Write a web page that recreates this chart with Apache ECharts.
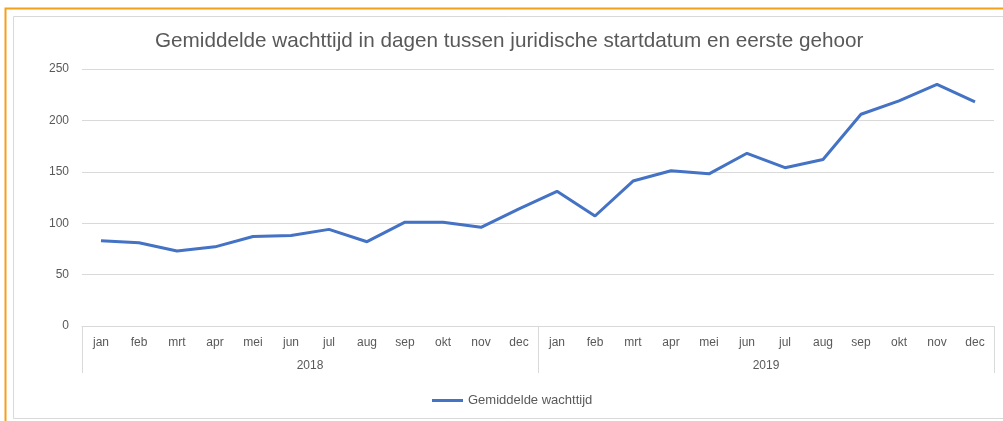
<!DOCTYPE html>
<html>
<head>
<meta charset="utf-8">
<script src="https://cdn.jsdelivr.net/npm/echarts@6/dist/echarts.min.js"></script>
<style>
  html, body { margin: 0; padding: 0; background: #ffffff; }
  #chart { width: 1003px; height: 421px; }
</style>
</head>
<body>
<div id="chart"></div>
<script>
// Average waiting time (days) between legal start date and first hearing, per month
const months = ['jan', 'feb', 'mrt', 'apr', 'mei', 'jun', 'jul', 'aug', 'sep', 'okt', 'nov', 'dec',
                'jan', 'feb', 'mrt', 'apr', 'mei', 'jun', 'jul', 'aug', 'sep', 'okt', 'nov', 'dec'];
const years = ['2018', '2019'];
const waitingDays = [83, 81, 73, 77, 87, 88, 94, 82, 101, 101, 96, 114,
                     131, 107, 141, 151, 148, 168, 154, 162, 206, 219, 235, 218];
const yTicks = { min: 0, max: 250, interval: 50 };

const textGrey = '#595959';
const gridGrey = '#d9d9d9';
const lineBlue = '#4472c4';
const font = 'Liberation Sans, Arial, sans-serif';

const chart = echarts.init(document.getElementById('chart'));
chart.setOption({
  backgroundColor: '#ffffff',
  animation: false,
  title: {
    text: 'Gemiddelde wachttijd in dagen tussen juridische startdatum en eerste gehoor',
    left: 150,
    top: 26,
    textStyle: { color: textGrey, fontSize: 20.7, fontWeight: 'normal', fontFamily: font }
  },
  legend: {
    left: 427,
    top: 389,
    icon: 'rect',
    itemWidth: 31,
    itemHeight: 3,
    textStyle: { color: textGrey, fontSize: 13, fontFamily: font },
    data: ['Gemiddelde wachttijd']
  },
  grid: { left: 82, right: 9, top: 69, bottom: 95, containLabel: false },
  xAxis: [
    {
      type: 'category',
      data: months,
      boundaryGap: true,
      axisLine: { show: true, lineStyle: { color: gridGrey, width: 1 } },
      axisTick: { show: false },
      axisLabel: { color: textGrey, fontSize: 12, fontFamily: font, margin: 11, interval: 0 }
    },
    {
      type: 'category',
      data: years,
      position: 'bottom',
      boundaryGap: true,
      axisLine: { show: false },
      axisTick: { show: true, length: 47, lineStyle: { color: gridGrey, width: 1 } },
      axisLabel: { color: textGrey, fontSize: 12, fontFamily: font, margin: 34, interval: 0 }
    }
  ],
  yAxis: {
    type: 'value',
    min: yTicks.min,
    max: yTicks.max,
    interval: yTicks.interval,
    axisLine: { show: false },
    axisTick: { show: false },
    splitLine: { lineStyle: { color: gridGrey, width: 1 } },
    axisLabel: { color: textGrey, fontSize: 12, fontFamily: font, margin: 13 }
  },
  series: [{
    name: 'Gemiddelde wachttijd',
    type: 'line',
    xAxisIndex: 0,
    data: waitingDays,
    symbol: 'none',
    smooth: false,
    lineStyle: { color: lineBlue, width: 3 },
    itemStyle: { color: lineBlue }
  }],
  graphic: [
    // inner grey chart frame
    { type: 'rect', silent: true, z: -1,
      shape: { x: 13.5, y: 16.5, width: 1000, height: 402 },
      style: { fill: 'none', stroke: gridGrey, lineWidth: 1 } },
    // orange selection frame
    { type: 'polyline', silent: true, z: 10,
      shape: { points: [[5.5, 425], [5.5, 8.5], [1010, 8.5]] },
      style: { fill: 'none', stroke: '#f5a01a', lineWidth: 2 } }
  ]
});
</script>
</body>
</html>
